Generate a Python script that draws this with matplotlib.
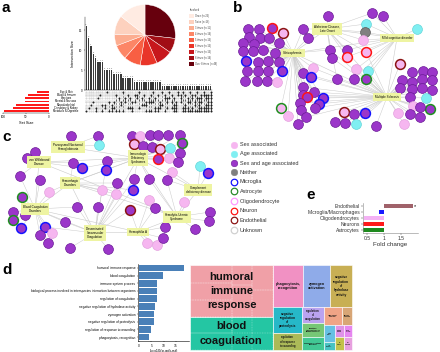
import numpy as np
import matplotlib
matplotlib.use('Agg')
import matplotlib.pyplot as plt
from matplotlib.patches import Rectangle

plt.rcParams['font.family'] = ['Liberation Sans', 'DejaVu Sans']

# ---------------- data ----------------
# panel a: pie
pie_labels = ['Once (n=26)', 'Twice (n=18)', '3 times (n=11)', '4 times (n=14)', '5 times (n=16)',
              '6 times (n=16)', '7 times (n=16)', '8 times (n=14)', 'Over 8 times (n=48)']
pie_vals = [26, 18, 11, 14, 16, 16, 16, 14, 48]

# panel a: upset
set_names = ['Eye & Skin', 'Blood & Immune', 'Infections', 'Mental & Nervous',
             'Musculoskeletal', 'Circulatory & Kidney', 'Metabolic & Digestive']
set_sizes = [26, 45, 52, 52, 72, 78, 98]
inter_counts = [16, 13, 11, 9, 8, 7, 7, 7, 5, 5, 5, 5, 4, 4, 4, 4, 3, 3, 3, 3, 3,
                2, 2, 2, 2, 2, 2, 2, 2, 2, 2, 2, 2,
                1, 1, 1, 1, 1, 1, 1, 1, 1, 1, 1, 1, 1, 1, 1, 1, 1, 1, 1, 1, 1, 1]
inter_sets = ["0000001", "0000010", "0000100", "0001000", "0000011", "0010000", "0100000", "0000101",
              "0000110", "1000000", "0001001", "0000111", "0001010", "0100001", "0010001", "0001100",
              "1000001", "0011000", "0100010", "0010010", "0001011", "0101000", "0110000", "1000010",
              "0010100", "0100100", "0001101", "0011001", "0101001", "1001000", "0010011", "0100011",
              "0001110", "1000100", "0110001", "0011010", "1010000", "0101010", "0010111", "0001111",
              "1100000", "0111000", "1000011", "0100111", "0011011", "1001001", "0110011", "0101101",
              "1010001", "0011111", "0111011", "1100011", "0110111", "0111111", "1111111"]

# panel b network
b_hub_labels = ['Schizophrenia', 'Alzheimer Disease,\nLate Onset', 'Mild cognitive disorder', 'Multiple Sclerosis']
b_hub_x = [293, 327, 397, 387]
b_hub_y = [53, 29, 38, 97]
b_hub_pairs = [(0, 1), (0, 3), (1, 3), (2, 3), (1, 2), (0, 2)]
b_x = [248, 259, 272, 283, 249, 260, 269, 279, 243, 254, 243, 253, 263, 275, 246, 258, 268, 279, 247, 258,
       268, 282, 245, 257, 267, 277, 303, 308, 328, 372, 383, 366, 365, 363, 417, 330, 347, 332, 347, 366,
       356, 368, 400, 303, 313, 311, 337, 354, 366, 303, 314, 303, 307, 323, 319, 300, 315, 301, 281, 288,
       298, 306, 344, 354, 365, 335, 345, 356, 376, 412, 423, 432, 402, 412, 422, 432, 400, 412, 422, 432,
       410, 426, 413, 430, 420, 398, 410, 420, 404]
b_y = [29, 29, 28, 33, 37, 38, 38, 43, 43, 44, 51, 51, 50, 53, 61, 62, 61, 62, 71, 71,
       71, 71, 81, 81, 81, 82, 29, 38, 16, 13, 16, 24, 32, 40, 29, 50, 50, 58, 57, 52,
       69, 71, 64, 73, 68, 77, 79, 79, 79, 87, 92, 95, 97, 98, 104, 103, 108, 110, 108, 116,
       124, 117, 112, 114, 113, 122, 123, 124, 126, 72, 71, 72, 80, 82, 79, 80, 88, 89, 88, 90,
       97, 98, 106, 109, 107, 113, 114, 117, 124]
b_fill = "PPPSPPPPPPPPPPPPPPPPPPPPPSPPPPPANSAPPPSSSASPSPPPPPPPPPPPPPSSPPSPPPPAPPPPPPPPPPPPPASPPSPPS"
b_ring = ['', '', 'n', 'e', '', '', '', '', '', '', '', '', '', '', 'm', '', '', '', '', '',
          '', 'm', '', '', '', '', '', '', '', '', '', '', '', '', '', '', '', '', 'n', 'n',
          '', '', 'e', '', '', 'm', '', '', 'a', '', '', '', 'n', 'm', 'm', '', '', '', 'a', '',
          '', '', 'e', '', 'm', '', '', '', '', '', '', '', '', '', '', '', '', '', '', '',
          '', '', '', 'a', '', '', '', '', '']
b_links = ['0'] * 26 + ['01', '01', '1', '12', '2', '12', '12', '12', '2', '013', '12', '13', '12', '123',
                        '23', '23', '3', '03', '03', '03', '13', '23', '23', '03', '03', '03', '03', '03',
                        '03', '03', '03', '0', '0', '0', '0', '03', '3', '3', '3', '3', '3', '3', '3'] + ['3'] * 20

# panel c network
c_hub_labels = ['Paroxysmal Nocturnal\nHemoglobinuria', 'Immunologic\nDeficiency\nSyndromes',
                'von Willebrand\nDisease', 'Hemorrhagic\nDisorders', 'Complement\ndeficiency disease',
                'Blood Coagulation\nDisorders', 'Hemolytic-Uremic\nSyndrome',
                'Disseminated\nIntravascular\nCoagulation', 'Hemophilia A']
c_hub_x = [68, 138, 39, 70, 198, 35, 177, 95, 138]
c_hub_y = [147, 158, 162, 183, 190, 209, 217, 233, 232]
c_hub_pairs = [(2, 5), (3, 5), (5, 7), (1, 7), (3, 1), (0, 1), (2, 1), (3, 7), (7, 8), (1, 6),
               (4, 6), (8, 6), (1, 4), (3, 6), (5, 8), (2, 6)]
c_x = [71, 98, 99, 132, 140, 150, 158, 168, 180, 182, 134, 143, 152, 160, 170, 180, 158, 169, 178, 35,
       27, 73, 82, 107, 106, 20, 40, 172, 200, 208, 149, 167, 117, 134, 133, 49, 102, 116, 22, 149,
       184, 77, 98, 130, 155, 210, 13, 25, 13, 21, 45, 65, 40, 52, 48, 70, 108, 147, 157, 163,
       165, 195, 209]
c_y = [136, 136, 145, 136, 136, 135, 135, 135, 135, 143, 144, 146, 147, 149, 148, 153, 159, 158, 162, 152,
       158, 163, 168, 161, 170, 176, 180, 172, 166, 173, 179, 180, 183, 179, 190, 192, 190, 194, 197, 200,
       202, 207, 207, 210, 208, 212, 212, 215, 220, 228, 227, 222, 235, 233, 243, 248, 249, 243, 245, 238,
       227, 229, 221]
c_fill = "PPAPSPPPPPSPPSAPPSPPPPPPPPPSAPPPPPPSSSPSSPPPPPPPPPPPPSPPPSSPPPP"
c_ring = ['', '', '', '', '', '', '', '', '', 'a', 'e', '', '', 'e', '', '', 'n', '', '', '',
          '', '', 'm', '', 'm', '', '', '', '', 'm', '', '', '', '', 'm', '', '', '', 'a', '',
          '', '', '', 'e', '', '', '', '', 'a', 'm', 'm', '', '', '', '', '', '', '', '', '',
          '', '', '']
c_links = ['0', '0', '0', '1', '1', '1', '1', '1', '1', '1', '1', '1', '1', '1', '1', '1', '1', '1', '1', '2',
           '2', '23', '12', '17', '13', '25', '5', '4', '4', '4', '16', '46', '37', '17', '37', '35', '37', '37', '5', '8',
           '6', '57', '7', '78', '68', '6', '5', '5', '5', '5', '57', '57', '5', '5', '5', '7', '7', '8', '8', '8',
           '68', '6', '6']

# legend
leg_labels = ['Sex associated', 'Age associated', 'Sex and age associated', 'Neither',
              'Microglia', 'Astrocyte', 'Oligodendrocyte', 'Neuron', 'Endothelial', 'Unknown']

# panel e
e_cells = ['Endothelial', 'Microglia/Macrophages', 'Oligodendrocytes', 'Neurons', 'Astrocytes']
e_fold = [1.86, 0.84, 0.42, 0.36, 0.36]

# panel d
d_terms = ['humoral immune response', 'blood coagulation', 'immune system process',
           'biological process involved in interspecies interaction between organisms',
           'regulation of coagulation', 'negative regulation of hydrolase activity',
           'zymogen activation', 'negative regulation of proteolysis',
           'regulation of response to wounding', 'phagocytosis, recognition']
d_vals = [18.5, 9.6, 7.2, 7.4, 7.2, 6.5, 6.1, 6.0, 4.8, 4.0]

# treemap (px boxes)
tm_x0 = [190, 190, 273, 303, 330, 273, 273, 302, 302, 302, 324, 342, 324, 335, 344, 324, 335, 344]
tm_y0 = [265, 317, 265, 265, 265, 307, 333, 307, 323, 337, 307, 307, 325, 325, 325, 342, 337, 337]
tm_x1 = [273, 273, 303, 330, 352, 302, 302, 324, 324, 324, 342, 352, 335, 344, 352, 335, 344, 352]
tm_y1 = [317, 350, 307, 307, 307, 333, 350, 323, 337, 350, 325, 325, 342, 337, 337, 350, 350, 350]
tm_labels = ['humoral\nimmune\nresponse', 'blood\ncoagulation', 'phagocytosis,\nrecognition',
             'zymogen\nactivation', 'negative\nregulation\nof\nhydrolase\nactivity',
             'negative\nregulation\nof\nproteolysis', 'regulation\nof response\nto wounding',
             'regulation\nof\ncoagulation', 'positive\nregulation of\nphagocytosis',
             'immune system\nprocess', 'complement\nactivation', 'defense\nresponse',
             'acute\nphase', 'protein\nfolding', 'blood\nvessel', 'lipid\ntransport', 'ion\nhomeo.',
             'cell\nadhesion']
tm_colors = ['#f0a0a7', '#24c6a3', '#f191c3', '#8fabe9', '#c8af54', '#26b8c8', '#abba58',
             '#baa3f0', '#76c776', '#41c894', '#f0a486', '#d8a676', '#66c0e3', '#df92e6',
             '#e686f0', '#47c3c3', '#c2c24a', '#e7a0df']
tm_sizes = [8, 8, 2.7, 2.7, 2.3, 2.3, 1.9, 2.0, 1.6, 1.6, 1.2, 1.2, 1.1, 1.1, 1.0, 1.0, 1.0, 1.0]
# faint sub-cells inside the two large treemap groups (px boxes)
sub_x0 = [190, 190, 190, 232, 232, 252, 252, 190, 190, 232, 252]
sub_y0 = [265, 283, 300, 265, 285, 265, 290, 317, 333, 317, 333]
sub_x1 = [232, 232, 232, 252, 252, 273, 273, 232, 232, 252, 273]
sub_y1 = [283, 300, 317, 285, 317, 290, 317, 333, 350, 333, 350]

# ---------------- figure ----------------
W, H = 440, 352
fig = plt.figure(figsize=(4.4, 3.52), dpi=100)


def px_axes(x0, y0, x1, y1):
    a = fig.add_axes([x0 / W, 1 - y1 / H, (x1 - x0) / W, (y1 - y0) / H])
    a.patch.set_alpha(0)
    return a


ov = px_axes(0, 0, W, H)
ov.set_xlim(0, W)
ov.set_ylim(H, 0)
ov.axis('off')

fill_colors = {'P': '#9b36c9', 'S': '#f6b6f0', 'A': '#80eff2', 'N': '#808080'}
fill_edges = {'P': '#6b1c97', 'S': '#e4a2df', 'A': '#66d6d9', 'N': '#5a5a5a'}
ring_colors = {'m': '#1414ff', 'a': '#1f8f1f', 'o': '#ff88ff', 'n': '#ff1414', 'e': '#8b1414', 'u': '#cfcfcf'}


def draw_network(hx, hy, hlab, hpairs, nx, ny, nfill, nring, nlinks):
    for a, b in hpairs:
        ov.plot([hx[a], hx[b]], [hy[a], hy[b]], color='#cacaca', lw=0.4, zorder=1)
    for i in range(len(nx)):
        for h in nlinks[i]:
            k = int(h)
            ov.plot([nx[i], hx[k]], [ny[i], hy[k]], color='#cacaca', lw=0.35, zorder=1)
    for i in range(len(nx)):
        r = nring[i]
        ec = ring_colors[r] if r else fill_edges[nfill[i]]
        lw = 1.1 if r else 0.5
        ov.scatter(nx[i], ny[i], s=50, color=fill_colors[nfill[i]], edgecolors=ec,
                   linewidths=lw, zorder=3)
    for i in range(len(hx)):
        ov.text(hx[i], hy[i], hlab[i], fontsize=2.2, ha='center', va='center', zorder=4,
                linespacing=1.0,
                bbox=dict(boxstyle='square,pad=0.6', fc='#eef4a2', ec='none'))


draw_network(b_hub_x, b_hub_y, b_hub_labels, b_hub_pairs, b_x, b_y, b_fill, b_ring, b_links)
draw_network(c_hub_x, c_hub_y, c_hub_labels, c_hub_pairs, c_x, c_y, c_fill, c_ring, c_links)

# legend
leg_fill = ['#f6b6f0', '#80eff2', '#9b36c9', '#808080', 'white', 'white', 'white', 'white', 'white', 'white']
leg_edge = ['#f6b6f0', '#80eff2', '#6b1c97', '#808080', '#1414ff', '#2a8a2a', '#ff99ff', '#ff1414', '#8b1414', '#d0d0d0']
leg_y = [145, 154, 163, 172, 182, 191, 201, 211, 220, 230]
for i, lab in enumerate(leg_labels):
    ov.scatter(234, leg_y[i], s=22, color=leg_fill[i], edgecolors=leg_edge[i],
               linewidths=0.9 if i >= 4 else 0.4, zorder=3)
    ov.text(240, leg_y[i], lab, fontsize=4, va='center', ha='left', color='#333333')

# panel letters
for lab, x, y in [('a', 2, 1), ('b', 233, 1), ('c', 2, 130), ('d', 2, 263), ('e', 306, 188)]:
    ov.text(x, y, lab, fontsize=11, fontweight='bold', va='top', ha='left')

# ---- panel a: upset ----
n = len(inter_counts)
axi = px_axes(85, 17, 212, 90)
xs = np.arange(n)
axi.bar(xs, inter_counts, width=0.62, color='#3a3a3a')
for i, v in enumerate(inter_counts):
    axi.text(i, v + 0.2, str(v), fontsize=1.5, ha='center', va='bottom', color='#444444')
axi.set_xlim(-0.6, n - 0.4)
axi.set_ylim(0, 18.25)
axi.set_yticks([0, 5, 10, 15])
axi.tick_params(axis='y', labelsize=2.2, length=1, width=0.3, pad=0.8)
axi.set_xticks([])
for s in ['top', 'right']:
    axi.spines[s].set_visible(False)
axi.spines['left'].set_linewidth(0.3)
axi.spines['bottom'].set_linewidth(0.3)
axi.set_ylabel('Intersection Size', fontsize=2.6, labelpad=3)

axm = px_axes(85, 90, 212, 113)
axm.set_xlim(-0.6, n - 0.4)
axm.set_ylim(6.5, -0.5)
for r in range(7):
    if r % 2 == 1:
        axm.axhspan(r - 0.5, r + 0.5, color='#efefef', lw=0)
for j in range(n):
    mem = [r for r in range(7) if inter_sets[j][r] == '1']
    for r in range(7):
        axm.scatter(j, r, s=2.2, color='#222222' if r in mem else '#d6d6d6', lw=0, zorder=3)
    if len(mem) > 1:
        axm.plot([j, j], [min(mem), max(mem)], color='#222222', lw=0.5, zorder=2)
axm.axis('off')

axs = px_axes(3, 90, 49, 113)
axs.barh(np.arange(7), set_sizes, height=0.55, color='#ff1a1a')
axs.set_ylim(6.5, -0.5)
axs.set_xlim(100, 0)
axs.set_xticks([100, 50, 0])
axs.set_yticks([])
axs.tick_params(axis='x', labelsize=2.2, length=1, width=0.3, pad=0.8)
for s in ['top', 'right', 'left']:
    axs.spines[s].set_visible(False)
axs.spines['bottom'].set_linewidth(0.3)
axs.set_xlabel('Set Size', fontsize=2.8, labelpad=1)
for r, name in enumerate(set_names):
    ov.text(66, 90 + (r + 0.5) * 23 / 7, name, fontsize=1.9, ha='center', va='center')

# pie
axp = px_axes(114, 4, 176, 66)
reds = plt.cm.Reds(np.linspace(0.06, 1.0, len(pie_vals)))
order = list(range(len(pie_vals)))[::-1]
axp.pie([pie_vals[i] for i in order], colors=[reds[i] for i in order], startangle=90,
        counterclock=False, wedgeprops=dict(edgecolor='white', linewidth=0.3))
axp.set_xlim(-1.02, 1.02)
axp.set_ylim(-1.02, 1.02)
axp.set_aspect('equal')

axl = px_axes(0, 0, W, H)
axl.set_xlim(0, W)
axl.set_ylim(H, 0)
axl.axis('off')
axl.text(190, 10, 'Involved', fontsize=2.0, ha='left', va='center', color='#444444')
for i, lab in enumerate(pie_labels):
    yy = 16 + i * 6
    axl.add_patch(Rectangle((189, yy - 2.3), 4.5, 4.6, color=reds[i], lw=0))
    axl.text(195, yy, lab, fontsize=1.8, ha='left', va='center', color='#444444')

# ---- panel e ----
axe = px_axes(363, 203, 418, 233)
ye = np.arange(len(e_cells))
e_colors = ['#a0626a', '#1a1aff', '#f4b2f4', '#ff1a1a', '#1e8a1e']
axe.barh(ye, [v - 1 for v in e_fold], left=1, height=0.75, color=e_colors)
axe.text(e_fold[0] + 0.03, 0, '*', fontsize=4, va='center', ha='left')
axe.set_ylim(4.55, -0.55)
axe.set_xlim(0.38, 2.0)
axe.set_xticks([0.5, 1, 1.5])
axe.set_xticklabels(['0.5', '1', '1.5'])
axe.set_yticks(ye)
axe.set_yticklabels(e_cells)
axe.tick_params(labelsize=3.6, length=1.2, width=0.3, pad=1, colors='#333333')
for s in ['top', 'right']:
    axe.spines[s].set_visible(False)
for s in ['left', 'bottom']:
    axe.spines[s].set_linewidth(0.4)
    axe.spines[s].set_color('#888888')
axe.set_xlabel('Fold change', fontsize=4.5, labelpad=1, color='#333333')

# ---- panel d ----
axd = px_axes(138, 264, 189, 341)
yd = np.arange(len(d_terms))
axd.barh(yd, d_vals, height=0.85, color='#4a80b8')
axd.set_ylim(len(d_terms) - 0.5, -0.5)
axd.set_xlim(-0.5, 20.5)
axd.set_xticks([0, 5, 10, 15])
axd.set_yticks(yd)
axd.set_yticklabels(d_terms)
axd.tick_params(labelsize=2.3, length=1, width=0.3, pad=1)
for s in ['top', 'right']:
    axd.spines[s].set_visible(False)
for s in ['left', 'bottom']:
    axd.spines[s].set_linewidth(0.4)
axd.set_xlabel('-log10(p.adjust)', fontsize=3, labelpad=1)

# ---- treemap ----
for i in range(len(tm_x0)):
    ov.add_patch(Rectangle((tm_x0[i], tm_y0[i]), tm_x1[i] - tm_x0[i], tm_y1[i] - tm_y0[i],
                           facecolor=tm_colors[i], edgecolor='white', lw=0.4, zorder=2))
for i in range(len(sub_x0)):
    ov.add_patch(Rectangle((sub_x0[i], sub_y0[i]), sub_x1[i] - sub_x0[i], sub_y1[i] - sub_y0[i],
                           facecolor='none', edgecolor='#ffffff', lw=0.3, ls=(0, (2, 2)),
                           alpha=0.7, zorder=2.5))
for i in range(len(tm_x0)):
    ls = 1.55 if tm_sizes[i] > 5 else 1.1
    ov.text((tm_x0[i] + tm_x1[i]) / 2, (tm_y0[i] + tm_y1[i]) / 2, tm_labels[i],
            fontsize=tm_sizes[i], fontweight='bold', ha='center', va='center',
            linespacing=ls, zorder=3, color='#111111')

fig.savefig('out.png', dpi=100)
